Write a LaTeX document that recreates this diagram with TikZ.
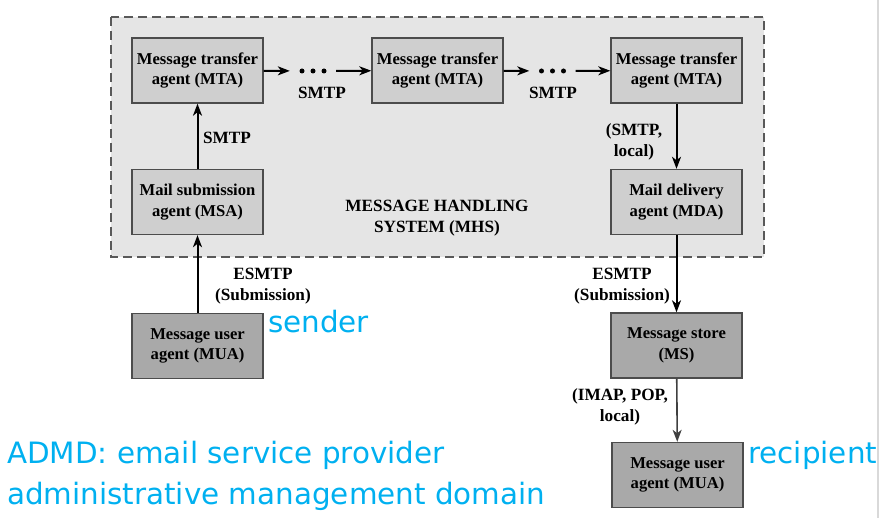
\documentclass[tikz,border=0pt]{standalone}
\usepackage{fontspec}
\setmainfont{Liberation Serif}
\newfontfamily\slidefont{DejaVu Sans}
\usetikzlibrary{arrows.meta}
\definecolor{mhsbg}{HTML}{E5E5E5}
\definecolor{agentfill}{HTML}{CFCFCF}
\definecolor{userfill}{HTML}{A9A9A9}
\definecolor{slideblue}{HTML}{00B0F0}
\begin{document}
\begin{tikzpicture}[x=1pt,y=-1pt,
        agent/.style={draw=black!70, fill=agentfill, line width=1.4pt, minimum width=131pt, minimum height=65pt, inner sep=0pt, align=center, font=\bfseries\fontsize{16.6}{20.5}\selectfont},
        useragent/.style={agent, fill=userfill},
        proto/.style={align=center, inner sep=0pt, font=\bfseries\fontsize{17.2}{20.5}\selectfont},
        chain/.style={minimum width=46pt, minimum height=8pt, inner sep=0pt},
        arr/.style={line width=2pt, -{Stealth[length=12pt,width=9pt,inset=3.5pt]}},
        note/.style={text=slideblue, inner sep=0pt, anchor=base west, font=\slidefont\fontsize{29.4}{41}\selectfont}]
        \useasboundingbox (0,0) rectangle (880,518);
        \draw[line width=2pt, black!15] (878,0) -- (878,518);
        % message handling system
        \draw[dash pattern=on 9pt off 5pt, black!65, line width=1.4pt, fill=mhsbg] (111,17) rectangle (764,257);
        \node[proto] (mhs) at (437,218) {MESSAGE HANDLING\\SYSTEM (MHS)};
        \node[agent] (mtaA) at (197.5,70.5) {Message transfer\\agent (MTA)};
        \node[agent] (mtaB) at (437.5,70.5) {Message transfer\\agent (MTA)};
        \node[agent] (mtaC) at (676.5,70.5) {Message transfer\\agent (MTA)};
        \node[agent] (msa) at (197.5,202) {Mail submission\\agent (MSA)};
        \node[agent] (mda) at (676.5,202) {Mail delivery\\agent (MDA)};
        \node[useragent] (muaA) at (197.5,346) {Message user\\agent (MUA)};
        \node[useragent] (ms) at (676.5,345.5) {Message store\\(MS)};
        \node[useragent] (muaB) at (677.5,475) {Message user\\agent (MUA)};
        % relay chains
        \node[chain] (dotsA) at (313,71) {};
        \node[chain] (dotsB) at (552.5,71) {};
        \foreach \n in {dotsA,dotsB} \foreach \d in {-11,0,11} \fill (\n.center) ++(\d,0) circle (2.5pt);
        \draw[arr] (mtaA) -- (dotsA);
        \draw[arr] (dotsA) -- (mtaB);
        \draw[arr] (mtaB) -- (dotsB);
        \draw[arr] (dotsB) -- (mtaC);
        \draw[arr] (muaA) -- (msa);
        \draw[arr] (msa) -- (mtaA);
        \draw[arr] (mtaC) -- (mda);
        \draw[arr] (mda) -- (ms);
        \draw[arr, line width=1.6pt, black!75] (ms) -- (muaB);
        % protocols
        \node[proto] (smtpA) at (322,93) {SMTP};
        \node[proto] (smtpB) at (553,93) {SMTP};
        \node[proto] (smtpC) at (227,138) {SMTP};
        \node[proto] (smtpD) at (634,142) {(SMTP,\\local)};
        \node[proto] (esmtpA) at (263,286) {ESMTP\\(Submission)};
        \node[proto] (esmtpB) at (622,286) {ESMTP\\(Submission)};
        \node[proto] (imap) at (620,407) {(IMAP, POP,\\local)};
        % slide notes
        \node[note] (sender) at (268,333) {sender};
        \node[note] (recipient) at (748,463) {recipient};
        \node[note] (admd) at (7,463) {ADMD: email service provider};
        \node[note] (admdB) at (7,504) {administrative management domain};
    \end{tikzpicture}
\end{document}
